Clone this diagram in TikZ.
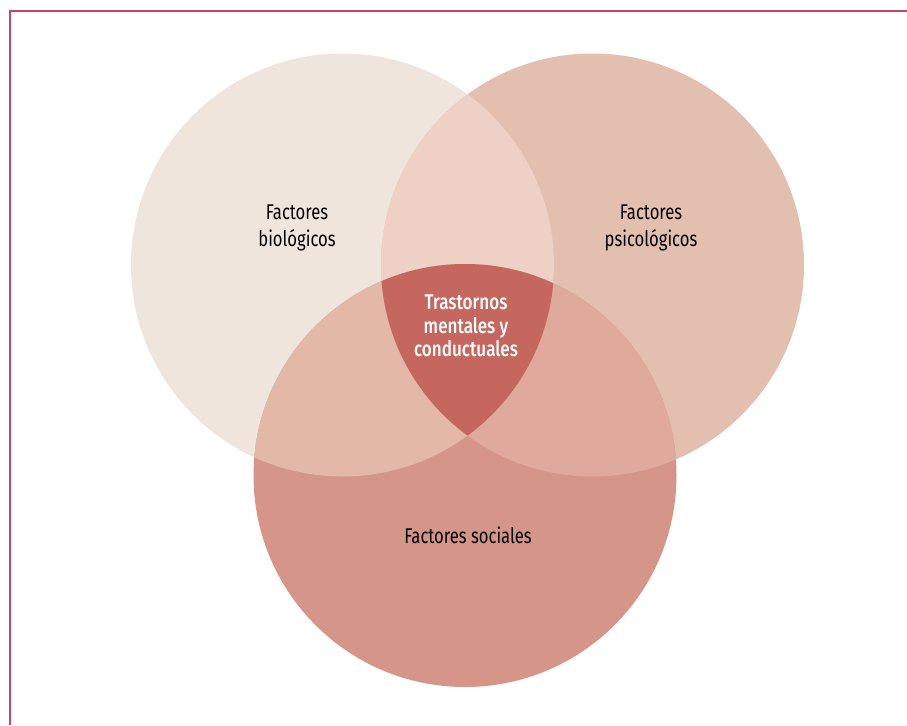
\documentclass[tikz,border=0pt]{standalone}
\usepackage{fontspec}
\setmainfont{Fira Sans}[FakeStretch=0.78]
\newfontfamily\medfont{Fira Sans Medium}[FakeStretch=0.8]
\definecolor{frameC}{HTML}{C9426F}
\definecolor{bioC}{HTML}{F0E5DD}
\definecolor{psyC}{HTML}{E3BFAF}
\definecolor{socC}{HTML}{D59588}
\definecolor{bpC}{HTML}{EFD0C5}
\definecolor{bsC}{HTML}{E3B8A7}
\definecolor{psC}{HTML}{DFA99B}
\definecolor{allC}{HTML}{C5675F}
\begin{document}
\begin{tikzpicture}[x=0.75pt,y=-0.75pt,
  lbl/.style={align=center,font=\fontsize{16}{20}\selectfont,text=black,inner sep=0pt},
  ctr/.style={align=center,font=\medfont\fontsize{16}{17.6}\selectfont,text=white,inner sep=0pt}]
\useasboundingbox (0,0) rectangle (907,725);
\fill[white] (0,0) rectangle (907,725);
\def\R{211.5}
\coordinate (cb) at (342.5,265);
\coordinate (cp) at (592.5,265);
\coordinate (cs) at (465,475.5);
\fill[bioC] (cb) circle (\R);
\fill[psyC] (cp) circle (\R);
\fill[socC] (cs) circle (\R);
\begin{scope}
  \clip (cb) circle (\R);
  \fill[bpC] (cp) circle (\R);
  \fill[bsC] (cs) circle (\R);
\end{scope}
\begin{scope}
  \clip (cp) circle (\R);
  \fill[psC] (cs) circle (\R);
\end{scope}
\begin{scope}
  \clip (cb) circle (\R);
  \clip (cp) circle (\R);
  \fill[allC] (cs) circle (\R);
\end{scope}
\draw[frameC,line width=1.6pt] (10,725) -- (10,11) -- (907,11);
\node[lbl] (tb) at (297,228) {Factores\\biológicos};
\node[lbl] (tp) at (651,228) {Factores\\psicológicos};
\node[lbl] (ts) at (468,535) {Factores sociales};
\node[ctr] (tc) at (466,326) {Trastornos\\mentales y\\conductuales};
\end{tikzpicture}
\end{document}
